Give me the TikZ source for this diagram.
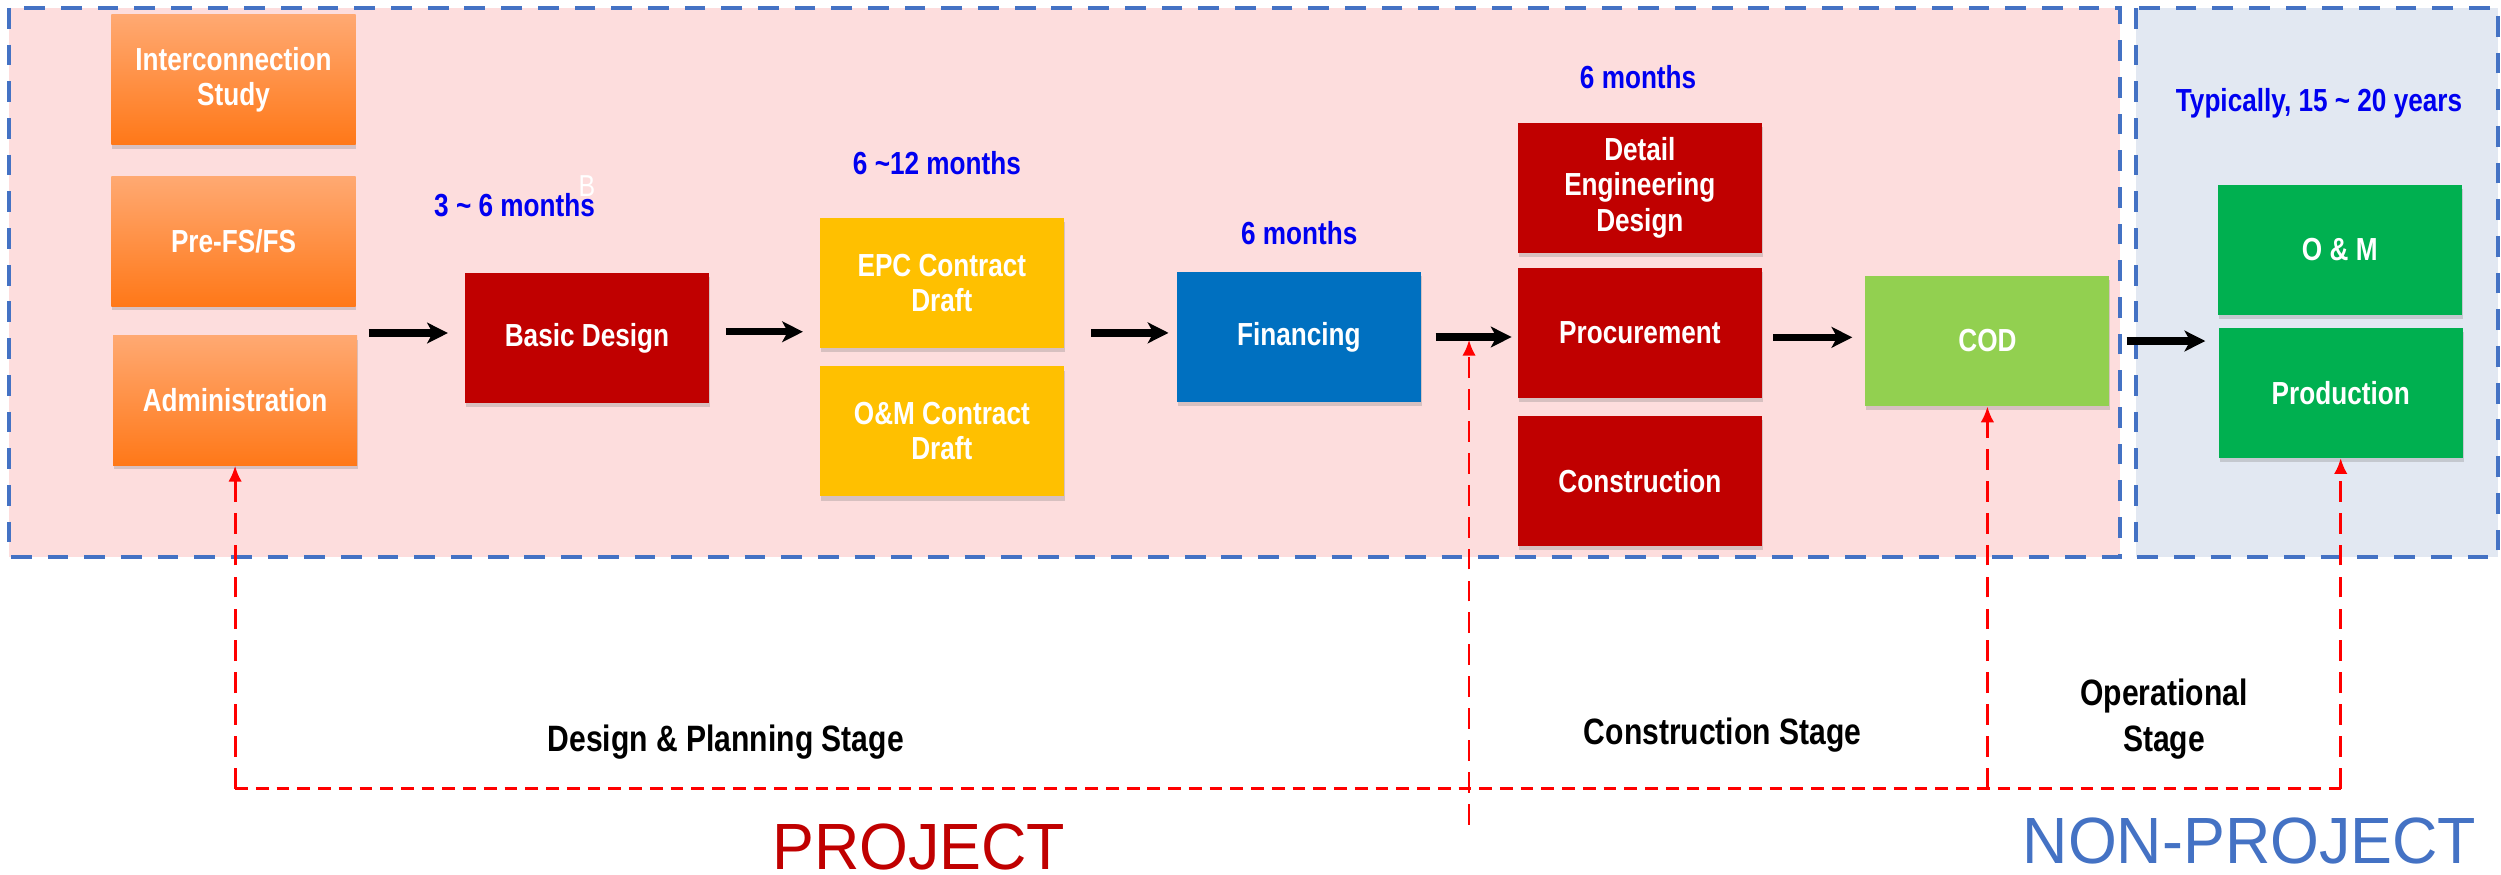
\documentclass[tikz,border=0pt]{standalone}
\usepackage{fontspec}
\setmainfont{Liberation Sans}[FakeStretch=0.82]
\newfontfamily\widesans{Liberation Sans}[FakeStretch=0.96]
\usetikzlibrary{arrows.meta,shadows}

\definecolor{pinkbg}{HTML}{FDDDDD}
\definecolor{bluebg}{HTML}{E2E8F2}
\definecolor{frameblue}{HTML}{4472C4}
\definecolor{darkred}{HTML}{C00000}
\definecolor{gold}{HTML}{FFC000}
\definecolor{finblue}{HTML}{0070C0}
\definecolor{lightgreen}{HTML}{92D050}
\definecolor{okgreen}{HTML}{00B050}
\definecolor{ortop}{HTML}{FFA972}
\definecolor{orbot}{HTML}{FF7818}
\definecolor{monthblue}{HTML}{0000F0}

\begin{document}
\begin{tikzpicture}[x=1pt,y=-1pt,
  box/.style={minimum width=153pt, minimum height=81.5pt, inner sep=2pt,
    align=center, text=white, font=\fontsize{20}{22}\selectfont\bfseries,
    drop shadow={shadow xshift=0.6pt, shadow yshift=-2.6pt, opacity=0.3}},
  orangebox/.style={box, top color=ortop, bottom color=orbot},
  redbox/.style={box, fill=darkred},
  goldbox/.style={box, fill=gold},
  month/.style={text=monthblue, anchor=base, inner sep=0pt,
    font=\fontsize{20}{24}\selectfont\bfseries},
  stage/.style={anchor=base, inner sep=0pt, align=center,
    font=\fontsize{23}{29}\selectfont\bfseries},
  region/.style={draw=frameblue, line width=2.4pt, dash pattern=on 13pt off 10pt},
  flow/.style={line width=4.6pt, -{Stealth[length=13pt,width=13pt,inset=3.5pt]}},
  reddash/.style={draw=red, line width=1.8pt},
  vdash/.style={reddash, dash pattern=on 13pt off 7pt, -{Latex[length=10pt,width=8.5pt]}},
  hdash/.style={reddash, dash pattern=on 8pt off 5pt},
]
\useasboundingbox (0,0) rectangle (1568,548);
\fill[white] (0,0) rectangle (1568,548);

% stage regions
\fill[pinkbg] (5.8,5) rectangle (1329,349);
\draw[region] (5.8,5) rectangle (1329,349);
\fill[bluebg] (1339,5) rectangle (1566,349);
\draw[region] (1339,5) rectangle (1566,349);

% activity boxes
\node[orangebox] (ic)    at (146.4,49.9)  {Interconnection\\Study};
\node[orangebox] (pre)   at (146.4,151.2) {Pre-FS/FS};
\node[orangebox] (admin) at (147.4,251)   {Administration};
\node[redbox]    (basic) at (368,211.8)   {Basic Design};
\node[goldbox]   (epc)   at (590.5,177.2) {EPC Contract\\Draft};
\node[goldbox]   (omc)   at (590.5,270.5) {O\&M Contract\\Draft};
\node[box, fill=finblue] (fin) at (814.3,211.3) {Financing};
\node[redbox]    (det)   at (1028.1,117.7) {Detail\\Engineering\\Design};
\node[redbox]    (proc)  at (1028.1,208.5) {Procurement};
\node[redbox]    (cons)  at (1028.1,301.5) {Construction};
\node[box, fill=lightgreen] (cod) at (1246,213.8) {COD};
\node[box, fill=okgreen] (oam)  at (1466.9,156.5) {O \& M};
\node[box, fill=okgreen] (prod) at (1467.5,246.2) {Production};

% durations
\node[month] (d1) at (322.6,136)   {3 \textasciitilde{} 6 months};
\node[text=white, anchor=base, inner sep=0pt, font=\fontsize{19}{19}\selectfont] (bmark) at (368,123) {B};
\node[month] (d2) at (587.4,109.7) {6 \textasciitilde12 months};
\node[month] (d3) at (814.6,153.4) {6 months};
\node[month] (d4) at (1027,55.5)   {6 months};
\node[month] (d5) at (1453.9,70.1) {Typically, 15 \textasciitilde{} 20 years};

% main flow
\draw[flow, shorten <=7pt, shorten >=10.5pt] ([yshift=3pt]admin.east |- basic.west) -- ([yshift=3pt]basic.west);
\draw[flow, shorten <=10.4pt, shorten >=10.4pt] ([yshift=3.8pt]basic.east) -- ([yshift=3.8pt]basic.east -| epc.west);
\draw[flow, shorten <=16.8pt, shorten >=5pt] ([yshift=2.6pt]fin.west -| epc.east) -- ([yshift=2.6pt]fin.west);
\draw[flow, shorten <=9pt, shorten >=3.7pt] (fin.east) -- (fin.east -| proc.west);
\draw[flow, shorten <=7pt, shorten >=8pt] ([yshift=-3pt]proc.east) -- ([yshift=-3pt]proc.east -| cod.west);
\draw[flow, shorten <=10.6pt, shorten >=8.2pt] (cod.east) -- (cod.east -| prod.west);

% stage brackets
\coordinate (base) at (800,494.5);
\coordinate (cstart) at (921,517);
\coordinate (ctip) at (921,213);
\draw[hdash] (admin.south |- base) -- (prod.south |- base);
\draw[vdash] (admin.south |- base) -- (admin.south);
\draw[vdash] (cod.south |- base) -- (cod.south);
\draw[vdash] (prod.south |- base) -- (prod.south);
\draw[vdash] (cstart) -- (ctip);

% stage labels
\node[stage] (s1) at (455,471.3)  {Design \& Planning Stage};
\node[stage] (s2) at (1080,466.5) {Construction Stage};
\node[stage] (s3) at (1356.7,471.3) {Operational\\Stage};

\node[anchor=base, inner sep=0pt, text=darkred, font=\widesans\fontsize{41}{41}\selectfont] (proj) at (576,545) {PROJECT};
\node[anchor=base, inner sep=0pt, text=frameblue, font=\widesans\fontsize{41}{41}\selectfont] (nproj) at (1410.3,541.3) {NON-PROJECT};
\end{tikzpicture}
\end{document}
